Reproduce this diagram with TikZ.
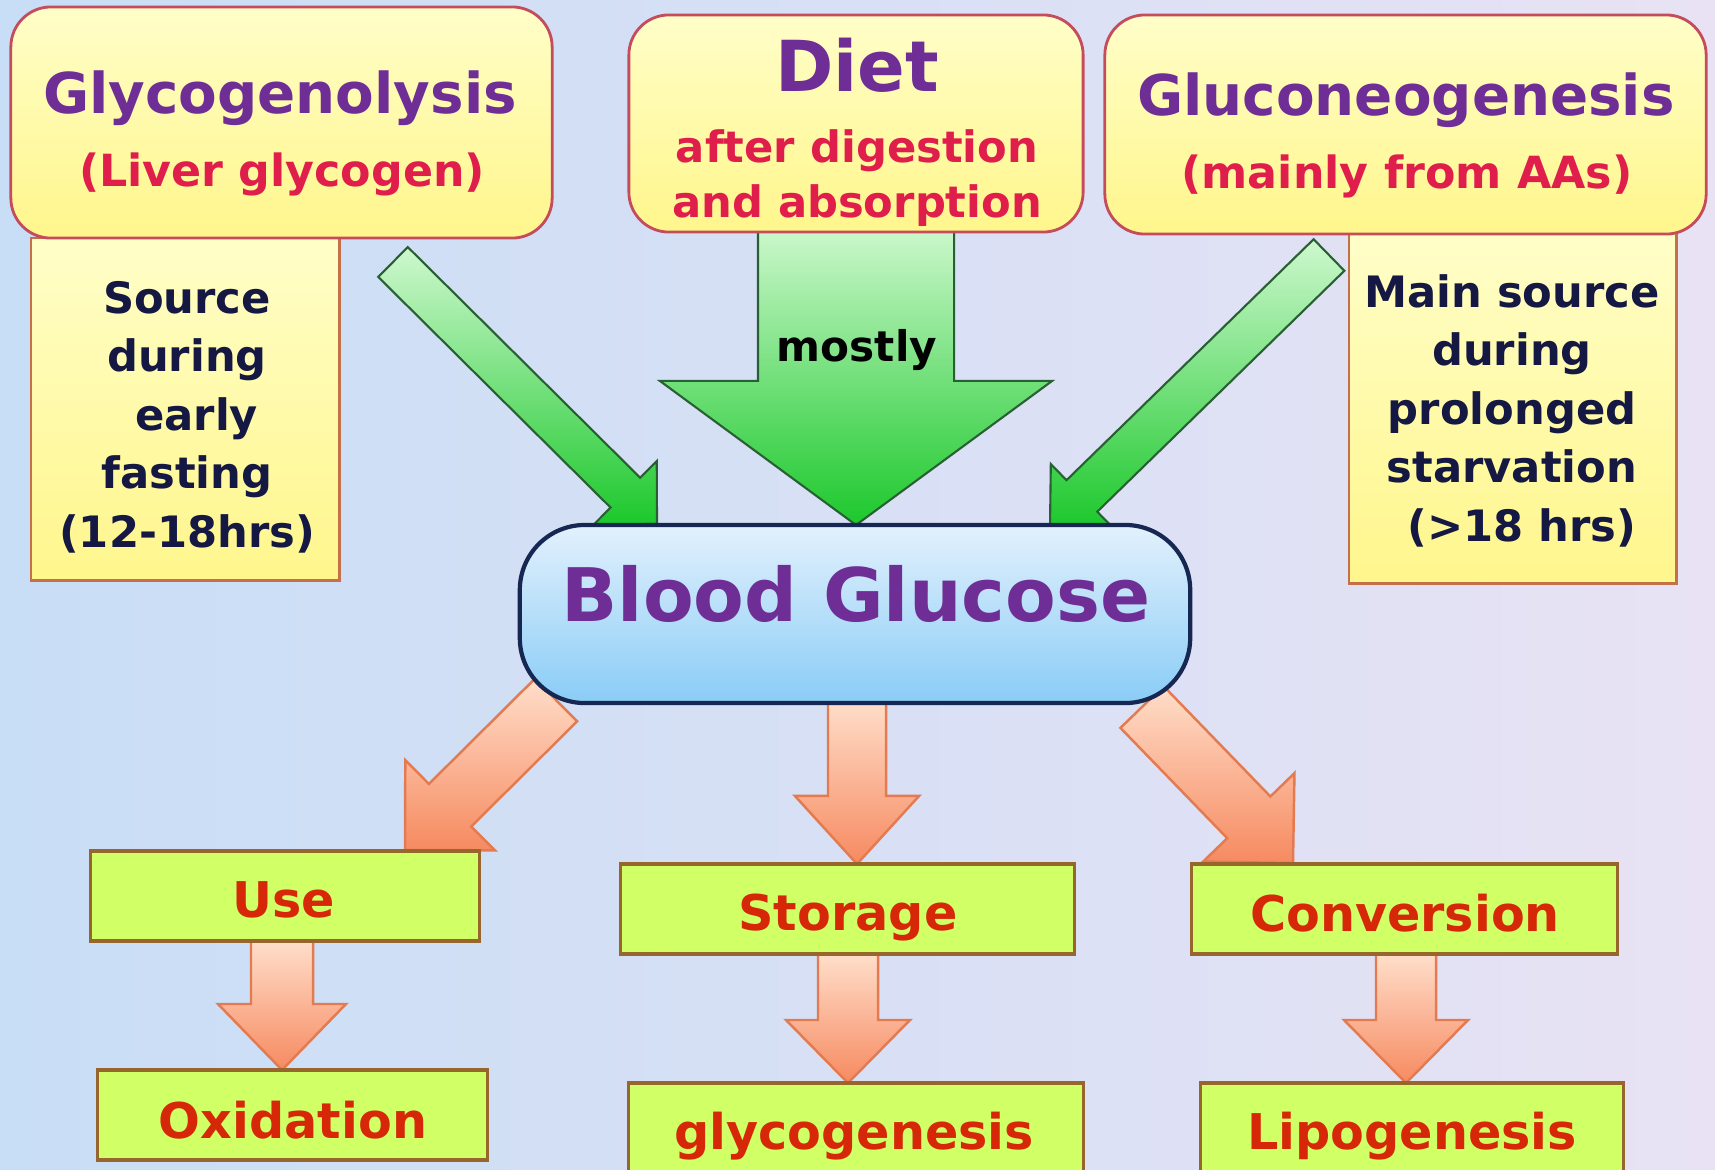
\documentclass[tikz,border=0pt]{standalone}
\usepackage{fontspec}
\setmainfont{DejaVu Sans}
\usetikzlibrary{calc}
\definecolor{bgL}{RGB}{200,222,246}
\definecolor{bgM}{RGB}{230,236,248}
\definecolor{bgR}{RGB}{232,226,244}
\definecolor{yelT}{RGB}{255,254,200}
\definecolor{yelB}{RGB}{255,246,140}
\definecolor{topBorder}{RGB}{196,76,92}
\definecolor{srcBorder}{RGB}{196,112,72}
\definecolor{blueT}{RGB}{226,241,253}
\definecolor{blueB}{RGB}{138,204,246}
\definecolor{navy}{RGB}{22,40,82}
\definecolor{lime}{RGB}{208,255,102}
\definecolor{limeBorder}{RGB}{150,102,44}
\definecolor{greenT}{RGB}{206,248,206}
\definecolor{greenB}{RGB}{28,200,44}
\definecolor{greenBorder}{RGB}{40,96,52}
\definecolor{orangeT}{RGB}{255,222,202}
\definecolor{orangeB}{RGB}{246,138,96}
\definecolor{orangeBorder}{RGB}{228,122,80}
\definecolor{purp}{RGB}{110,46,150}
\definecolor{crim}{RGB}{224,30,76}
\definecolor{navytext}{RGB}{20,24,66}
\definecolor{redtext}{RGB}{214,40,8}
\newcommand\myarrow[6]{%
  \coordinate (hb) at ($(#3)!#6!(#2)$);
  \path[#1] ($(#2)!#4!90:(#3)$) -- ($(hb)!#4!90:(#3)$) -- ($(hb)!#5!90:(#3)$) -- (#3)
    -- ($(hb)!#5!-90:(#3)$) -- ($(hb)!#4!-90:(#3)$) -- ($(#2)!#4!-90:(#3)$) -- cycle;
}
\begin{document}
\begin{tikzpicture}[x=0.01cm,y=-0.01cm,
  topbox/.style={draw=topBorder, line width=0.8pt, rounded corners=0.4cm, top color=yelT, bottom color=yelB, inner sep=0, outer sep=0},
  srcbox/.style={draw=srcBorder, line width=0.8pt, top color=yelT, bottom color=yelB, inner sep=0, outer sep=0},
  bluebox/.style={draw=navy, line width=1.2pt, rounded corners=0.65cm, top color=blueT, bottom color=blueB, inner sep=0, outer sep=0},
  limebox/.style={draw=limeBorder, line width=0.9pt, fill=lime, inner sep=0, outer sep=0},
  greenarrow/.style={draw=greenBorder, line width=0.6pt, top color=greenT, bottom color=greenB},
  orangearrow/.style={draw=orangeBorder, line width=0.7pt, top color=orangeT, bottom color=orangeB},
  ttl/.style={text=purp, font=\bfseries\fontsize{16}{19}\selectfont, anchor=base, inner sep=0},
  sub/.style={text=crim, font=\bfseries\fontsize{12.6}{15}\selectfont, anchor=base, inner sep=0},
  srctext/.style={text=navytext, font=\bfseries\fontsize{12.3}{16.6}\selectfont, align=center, anchor=base, inner sep=0},
  lbl/.style={text=redtext, font=\bfseries\fontsize{14}{17}\selectfont, anchor=base, inner sep=0}
]
\useasboundingbox (0,0) rectangle (1715,1169);
\shade[left color=bgL, middle color=bgM, right color=bgR] (0,0) rectangle (1715,1169);

% arrow end points
\coordinate (gAs) at (393,262);
\coordinate (gAt) at (657,524);
\coordinate (gBs) at (856,225);
\coordinate (gBt) at (856,525);
\coordinate (gCs) at (1329,255);
\coordinate (gCt) at (1050,527);
\coordinate (oAs) at (556,700);
\coordinate (oAt) at (405,850);
\coordinate (oBs) at (857,700);
\coordinate (oBt) at (857,864);
\coordinate (oCs) at (1142,707);
\coordinate (oCt) at (1293,863);
\coordinate (oDs) at (282,941);
\coordinate (oDt) at (282,1070);
\coordinate (oEs) at (848,954);
\coordinate (oEt) at (848,1083);
\coordinate (oFs) at (1406,954);
\coordinate (oFt) at (1406,1083);

% green arrows
\myarrow{greenarrow}{gAs}{gAt}{0.21cm}{0.445cm}{0.445cm}
\myarrow{greenarrow}{gBs}{gBt}{0.98cm}{1.96cm}{1.44cm}
\myarrow{greenarrow}{gCs}{gCt}{0.22cm}{0.445cm}{0.445cm}
% orange arrows
\myarrow{orangearrow}{oAs}{oAt}{0.30cm}{0.635cm}{0.635cm}
\myarrow{orangearrow}{oBs}{oBt}{0.29cm}{0.62cm}{0.68cm}
\myarrow{orangearrow}{oCs}{oCt}{0.30cm}{0.635cm}{0.635cm}
\myarrow{orangearrow}{oDs}{oDt}{0.31cm}{0.64cm}{0.66cm}
\myarrow{orangearrow}{oEs}{oEt}{0.30cm}{0.62cm}{0.63cm}
\myarrow{orangearrow}{oFs}{oFt}{0.30cm}{0.62cm}{0.63cm}

% boxes
\node[srcbox, minimum width=3.08cm, minimum height=3.42cm] (src1) at (185,409) {};
\node[srcbox, minimum width=3.27cm, minimum height=3.50cm] (src2) at (1512.5,408) {};
\node[topbox, minimum width=5.41cm, minimum height=2.31cm] (glyco) at (281.5,122.5) {};
\node[topbox, minimum width=4.54cm, minimum height=2.17cm] (diet) at (856,123.5) {};
\node[topbox, minimum width=6.01cm, minimum height=2.19cm] (gluco) at (1405.5,124.5) {};
\node[bluebox, minimum width=6.70cm, minimum height=1.78cm] (blood) at (855,614) {};
\node[limebox, minimum width=3.88cm, minimum height=0.90cm] (use) at (285,896) {};
\node[limebox, minimum width=3.89cm, minimum height=0.90cm] (oxid) at (292.5,1115) {};
\node[limebox, minimum width=4.53cm, minimum height=0.90cm] (stor) at (847.5,909) {};
\node[limebox, minimum width=4.54cm, minimum height=1.20cm] (glycgen) at (856,1143) {};
\node[limebox, minimum width=4.25cm, minimum height=0.90cm] (conv) at (1404.5,909) {};
\node[limebox, minimum width=4.22cm, minimum height=1.20cm] (lipo) at (1412,1143) {};

% texts
\node[ttl] (tGlyco) at (280,113) {Glycogenolysis};
\node[sub] (tLiver) at (282,186) {(Liver glycogen)};
\node[ttl, font=\bfseries\fontsize{20}{24}\selectfont] (tDiet) at (857,91) {Diet};
\node[sub, font=\bfseries\fontsize{12.3}{15}\selectfont] (tAfter) at (857,162) {after digestion};
\node[sub, font=\bfseries\fontsize{12.3}{15}\selectfont] (tAnd) at (857,217) {and absorption};
\node[ttl] (tGluco) at (1406,115) {Gluconeogenesis};
\node[sub] (tMainly) at (1407,188) {(mainly from AAs)};
\node[srctext] (tSrc1) at (187,547) {Source\\during\\\hspace*{0.45em}early\\fasting\\(12-18hrs)};
\node[srctext] (tSrc2) at (1512,541) {Main source\\during\\prolonged\\starvation\\\hspace*{0.45em}(>18 hrs)};
\node[font=\bfseries\fontsize{12}{14}\selectfont, anchor=base, inner sep=0] (tMostly) at (857,361) {mostly};
\node[ttl, font=\bfseries\fontsize{21}{25}\selectfont] (tBlood) at (856,621) {Blood Glucose};
\node[lbl] (tUse) at (284,917) {Use};
\node[lbl] (tOxid) at (293,1138) {Oxidation};
\node[lbl] (tStor) at (848,930) {Storage};
\node[lbl] (tGlycgen) at (854,1149) {glycogenesis};
\node[lbl] (tConv) at (1405,931) {Conversion};
\node[lbl] (tLipo) at (1412,1149) {Lipogenesis};
\end{tikzpicture}
\end{document}
